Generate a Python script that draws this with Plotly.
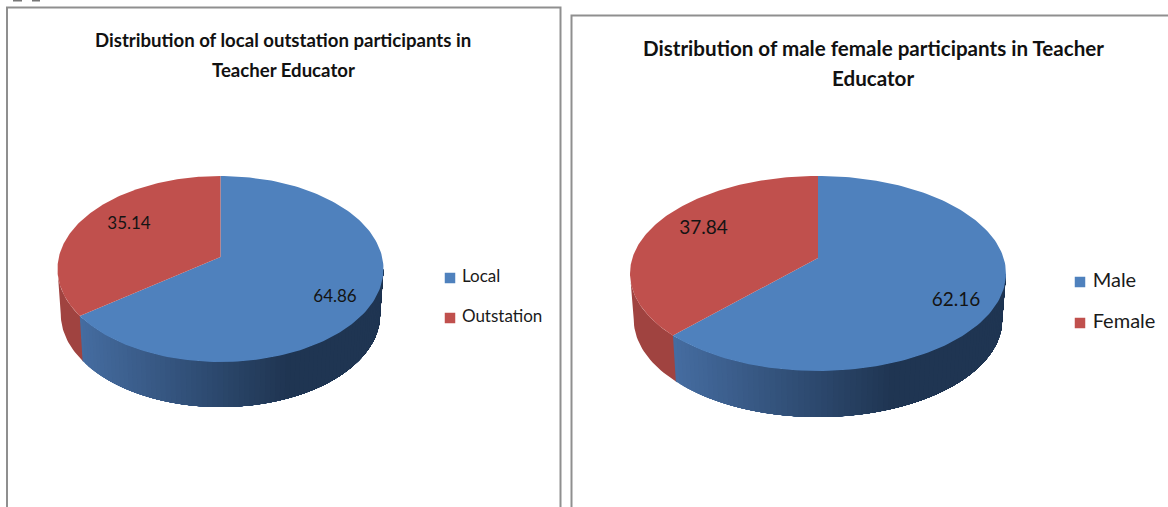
import numpy as np
import plotly.graph_objects as go

# ---------- data ----------
left_title = ["Distribution of local outstation participants in", "Teacher Educator"]
left_labels = ["Local", "Outstation"]
left_values = [64.86, 35.14]

right_title = ["Distribution of male female participants in Teacher", "Educator"]
right_labels = ["Male", "Female"]
right_values = [62.16, 37.84]

# ---------- styling / layout ----------
W, H = 1168, 507
FONT = "Lato"
TOP_COLORS = ["#4F81BD", "#C0504D"]
SIDE_RED = "#A04340"
SIDE_LIGHT = np.array([0x45, 0x6C, 0xA0])
SIDE_DARK = np.array([0x1F, 0x35, 0x52])
FRAME = "#8f8f8f"

LEFT = dict(cx=220.5, cy=269, a=163, b=93, t=0.129, depth=45, shrink=0.98, dark_x=285,
            title_x=283, title_y=[40, 70], title_size=18.6,
            label_xy=[(335, 298), (129, 225)], label_size=17,
            legend_x=450, legend_y=[278, 318], legend_size=17)
RIGHT = dict(cx=818, cy=273.5, a=188, b=97.5, t=0.159, depth=46, shrink=0.98, dark_x=890,
             title_x=873, title_y=[48, 78], title_size=20.6,
             label_xy=[(956, 301), (703.5, 229)], label_size=19,
             legend_x=1080, legend_y=[282, 323], legend_size=20)


def to_disc(frac, t):
    """Clockwise fraction from 12 o'clock -> point on the perspective-shifted unit disc."""
    ang = 2 * np.pi * np.asarray(frac)
    u, v = np.sin(ang), np.cos(ang)
    d = 1 + t * v
    return u * np.sqrt(1 - t * t) / d, (v + t) / d


def poly(fig, x, y, color):
    fig.add_trace(go.Scatter(x=list(x), y=list(y), mode="lines", fill="toself",
                             fillcolor=color, line=dict(width=0),
                             hoverinfo="skip", showlegend=False))


def draw_pie(fig, labels, values, title, g):
    cx, cy, a, b, t = g["cx"], g["cy"], g["a"], g["b"], g["t"]
    dep, s = g["depth"], g["shrink"]
    total = sum(values)
    split = values[0] / total

    def upper(phi):
        return cx + a * np.cos(phi), cy - b * np.sin(phi)

    def lower(phi):
        return cx + a * s * np.cos(phi), cy + dep - b * np.sin(phi)

    sx, sy = to_disc(split, t)
    phi_split = np.arctan2(sy, sx)  # negative: lower-left of the ellipse

    # side wall: red part
    ph = np.linspace(-np.pi, phi_split + 0.01, 24)
    ux, uy = upper(ph)
    lx, ly = lower(ph)
    poly(fig, np.r_[ux, lx[::-1]], np.r_[uy, ly[::-1]], SIDE_RED)

    # side wall: blue part; each band runs to the far end and is overpainted by the next
    edges = np.linspace(phi_split, 0, 80)
    x_start = upper(phi_split)[0]
    for p0 in edges[:-1]:
        ph = np.linspace(p0, 0, 40)
        ux, uy = upper(ph)
        lx, ly = lower(ph)
        mix = np.clip((upper(p0)[0] - x_start) / (g["dark_x"] - x_start), 0, 1)
        rgb = (SIDE_LIGHT * (1 - mix) + SIDE_DARK * mix).round().astype(int)
        poly(fig, np.r_[ux, lx[::-1]], np.r_[uy, ly[::-1]], f"rgb({rgb[0]},{rgb[1]},{rgb[2]})")

    # top face
    apex_x, apex_y = cx, cy - b * t
    start = 0.0
    for val, col in zip(values, TOP_COLORS):
        fr = np.linspace(start, start + val / total, 160)
        X, Y = to_disc(fr, t)
        poly(fig, np.r_[apex_x, cx + a * X], np.r_[apex_y, cy - b * Y], col)
        start += val / total

    # value labels
    fig.add_trace(go.Scatter(
        x=[p[0] for p in g["label_xy"]], y=[p[1] for p in g["label_xy"]],
        mode="text", text=[f"{v:.2f}" for v in values],
        textposition="middle center",
        textfont=dict(family=FONT, size=g["label_size"], color="#141414"),
        hoverinfo="skip", showlegend=False))

    # legend
    fig.add_trace(go.Scatter(
        x=[g["legend_x"]] * 2, y=g["legend_y"], mode="markers+text",
        text=[" " + l for l in labels], textposition="middle right",
        textfont=dict(family=FONT, size=g["legend_size"], color="#1a1a1a"),
        marker=dict(symbol="square", size=10.5, color=TOP_COLORS),
        hoverinfo="skip", showlegend=False))

    # title, one annotation per line for the wide leading
    for line, y in zip(title, g["title_y"]):
        fig.add_annotation(x=g["title_x"], y=y, text=f"<b>{line}</b>",
                           showarrow=False, xanchor="center", yanchor="middle",
                           font=dict(family=FONT, size=g["title_size"], color="#111111"))


fig = go.Figure()
draw_pie(fig, left_labels, left_values, left_title, LEFT)
draw_pie(fig, right_labels, right_values, right_title, RIGHT)

# panel frames, open at the crop edge
frames = [
    ("M7,507 L7,7.5 L560.5,7.5 L560.5,507", 2),
    (f"M571.5,507 L571.5,15.5 L{W},15.5", 2),
]
shapes = [dict(type="path", path=p, line=dict(color=FRAME, width=w), layer="below")
          for p, w in frames]
# cropped text remnants at the very top edge
shapes += [dict(type="rect", x0=x0, x1=x1, y0=0, y1=1.5, fillcolor="#777777", line_width=0)
           for x0, x1 in [(13, 22), (32, 40)]]

fig.update_layout(
    width=W, height=H, margin=dict(l=0, r=0, t=0, b=0), autosize=False,
    paper_bgcolor="white", plot_bgcolor="white", showlegend=False, shapes=shapes,
    xaxis=dict(range=[0, W], visible=False, fixedrange=True),
    yaxis=dict(range=[H, 0], visible=False, fixedrange=True),
)
fig.write_html("out.html", config=dict(displayModeBar=False),
               post_script="document.body.style.margin='0';document.body.style.overflow='hidden';")
